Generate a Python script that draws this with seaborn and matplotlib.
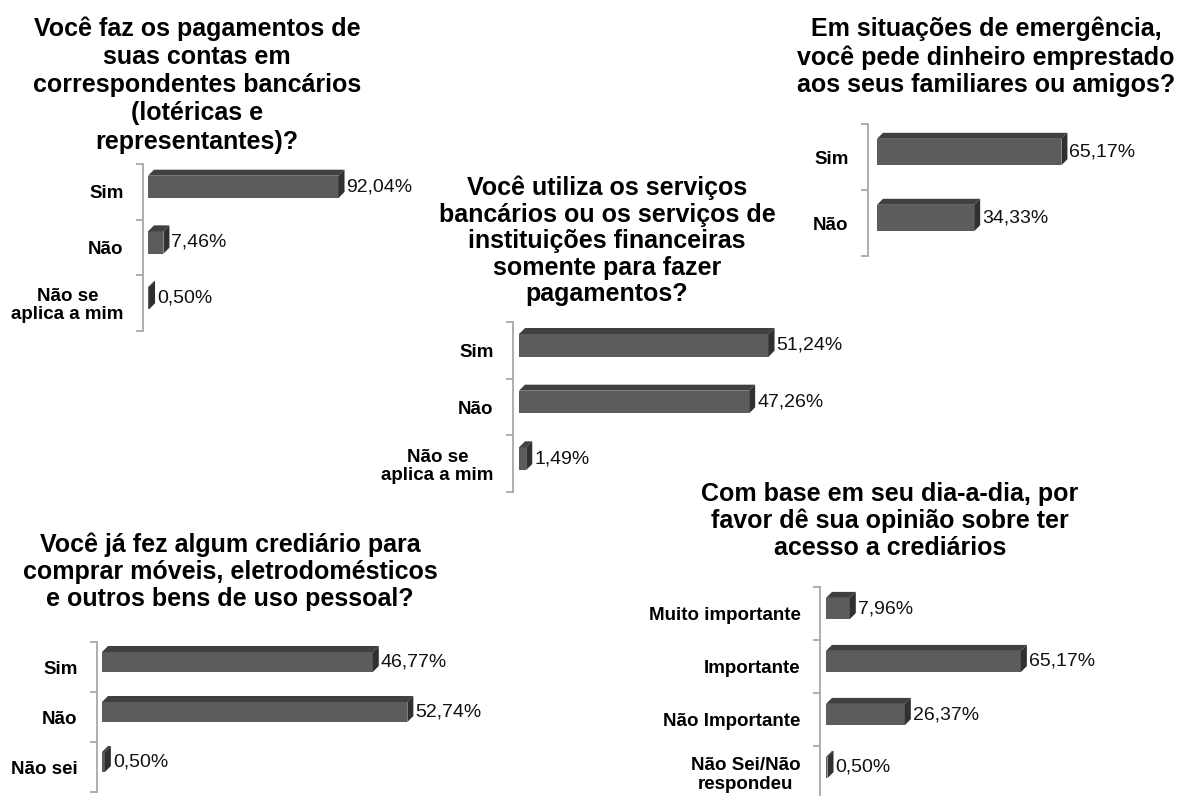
"""
Survey results: five small horizontal bar charts with a 3D look.
"""

import matplotlib
matplotlib.use("Agg")
import matplotlib.pyplot as plt
import seaborn as sns
import pandas as pd
from matplotlib.patches import Polygon

# ---- data ----
q1_title = "Você faz os pagamentos de\nsuas contas em\ncorrespondentes bancários\n(lotéricas e\nrepresentantes)?"
q1_labels = ["Sim", "Não", "Não se\naplica a mim"]
q1_values = [92.04, 7.46, 0.50]

q2_title = "Em situações de emergência,\nvocê pede dinheiro emprestado\naos seus familiares ou amigos?"
q2_labels = ["Sim", "Não"]
q2_values = [65.17, 34.33]

q3_title = "Você utiliza os serviços\nbancários ou os serviços de\ninstituições financeiras\nsomente para fazer\npagamentos?"
q3_labels = ["Sim", "Não", "Não se\naplica a mim"]
q3_values = [51.24, 47.26, 1.49]

q4_title = "Você já fez algum crediário para\ncomprar móveis, eletrodomésticos\ne outros bens de uso pessoal?"
q4_labels = ["Sim", "Não", "Não sei"]
q4_values = [46.77, 52.74, 0.50]

q5_title = "Com base em seu dia-a-dia, por\nfavor dê sua opinião sobre ter\nacesso a crediários"
q5_labels = ["Muito importante", "Importante", "Não Importante", "Não Sei/Não\nrespondeu"]
q5_values = [7.96, 65.17, 26.37, 0.50]

# ---- style ----
W, H = 1182, 796
FRONT = "#5c5c5c"
TOP = "#404040"
SIDE = "#303030"
SPINE = "#a8a8a8"
DEPTH = 6  # px

sns.set_theme(style="white")
plt.rcParams["font.family"] = ["Liberation Sans", "DejaVu Sans"]


def draw_panel(fig, labels, values, spine_x, top, bottom, ppp, gap=5, width=330):
    """Draw one bar panel. ppp = pixels per percent point."""
    ax = fig.add_axes([spine_x / W, 1 - bottom / H, width / W, (bottom - top) / H])
    df = pd.DataFrame({"cat": labels, "val": values})
    sns.barplot(data=df, y="cat", x="val", orient="h", color=FRONT,
                saturation=1, width=0.4, ax=ax, edgecolor="none")

    n = len(labels)
    slot = (bottom - top) / n
    ax.set_xlim(-gap / ppp, (width - gap) / ppp)
    ax.set_ylim(n - 0.5, -0.5)

    dx = DEPTH / ppp
    dy = DEPTH / slot
    shift = 5 / slot
    for patch, v in zip(ax.patches, values):
        patch.set_y(patch.get_y() - shift)
        x0, y0 = patch.get_x(), patch.get_y()
        w, h = patch.get_width(), patch.get_height()
        top_face = Polygon([(x0, y0), (x0 + w, y0), (x0 + w + dx, y0 - dy), (x0 + dx, y0 - dy)],
                           closed=True, facecolor=TOP, edgecolor="none")
        side_face = Polygon([(x0 + w, y0), (x0 + w + dx, y0 - dy), (x0 + w + dx, y0 + h - dy), (x0 + w, y0 + h)],
                            closed=True, facecolor=SIDE, edgecolor="none")
        ax.add_patch(top_face)
        ax.add_patch(side_face)
        ax.text(x0 + w + dx + 2 / ppp, y0 + h / 2, f"{v:.2f}%".replace(".", ","),
                va="center", ha="left", fontsize=14, color="#111111")

    for s in ["top", "right", "bottom"]:
        ax.spines[s].set_visible(False)
    ax.spines["left"].set_color(SPINE)
    ax.spines["left"].set_linewidth(1.3)
    ax.set_xticks([])
    ax.set_xlabel("")
    ax.set_ylabel("")
    ax.set_yticks(range(n))
    ax.set_yticklabels(labels, fontsize=13.5, fontweight="bold", color="black")
    ax.set_yticks([i - 0.5 for i in range(n + 1)], minor=True)
    ax.tick_params(axis="y", which="major", length=0, pad=14)
    ax.tick_params(axis="y", which="minor", length=5, width=1.3, color=SPINE, direction="out", left=True)
    for lab in ax.get_yticklabels():
        lab.set_multialignment("center")
        lab.set_linespacing(1.1)
    ax.patch.set_alpha(0)
    return ax


def main():
    fig = plt.figure(figsize=(W / 100, H / 100), dpi=100)
    fig.patch.set_facecolor("white")

    draw_panel(fig, q1_labels, q1_values, 143, 164, 331, 2.07)
    draw_panel(fig, q2_labels, q2_values, 868, 124, 256, 2.83, gap=9, width=300)
    draw_panel(fig, q3_labels, q3_values, 513, 322, 492, 4.87, gap=6)
    draw_panel(fig, q4_labels, q4_values, 97, 642, 792, 5.79)
    draw_panel(fig, q5_labels, q5_values, 820, 587, 799, 2.99, gap=6, width=300)

    titles = [
        (q1_title, 197, 85, 1.22),
        (q2_title, 986, 57, 1.2),
        (q3_title, 607, 241, 1.13),
        (q4_title, 230, 572, 1.15),
        (q5_title, 890, 521, 1.15),
    ]
    for text, cx, cy, ls in titles:
        fig.text(cx / W, 1 - cy / H, text, ha="center", va="center",
                 multialignment="center", fontsize=18, fontweight="bold",
                 linespacing=ls, color="black")

    fig.savefig("out.png", dpi=100, facecolor="white")
    plt.close(fig)


if __name__ == "__main__":
    main()
